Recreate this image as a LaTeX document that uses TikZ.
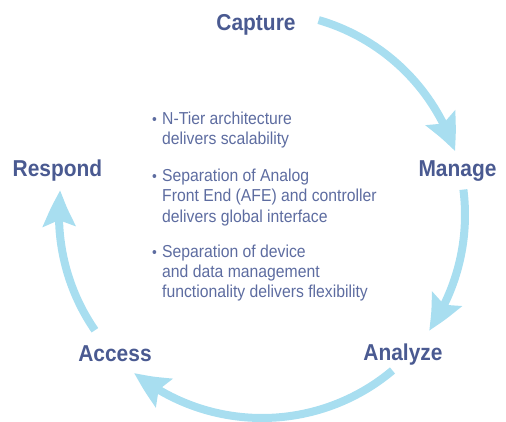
\documentclass[tikz,border=0pt]{standalone}
\usepackage{fontspec}
\setmainfont{Liberation Sans}[FakeStretch=0.91]
\usetikzlibrary{arrows.meta,bending,calc}
\definecolor{titleblue}{HTML}{4A5A91}
\definecolor{textblue}{HTML}{5D6CA0}
\definecolor{arrowblue}{HTML}{A8DEF0}
\begin{document}
\begin{tikzpicture}[x=1pt,y=1pt,
  stage/.style={font=\fontsize{23}{26}\selectfont\bfseries, text=titleblue, inner sep=0pt, anchor=base},
  bullettext/.style={font=\fontsize{17.3}{20}\selectfont, text=textblue, inner sep=0pt, anchor=base west},
  bulletdot/.style={font=\fontsize{15}{16}\selectfont, text=textblue, inner sep=0pt, anchor=base east},
  cyclearrow/.style={line width=8pt, draw=arrowblue, -{Stealth[length=36pt,width=32pt,inset=6pt,bend]}}
]
\useasboundingbox (0,0) rectangle (506,421);
% stage labels
\node[stage] (capture) at (256,390) {Capture};
\node[stage] (manage)  at (457.5,244) {Manage};
\node[stage] (respond) at (57.5,244) {Respond};
\node[stage] (access)  at (115,60) {Access};
\node[stage] (analyze) at (403,61) {Analyze};
% circle geometry
\coordinate (o) at (262,206);
\def\R{203}
\draw[cyclearrow] ($(o)+(73.8:\R)$) arc[start angle=73.8, end angle=18.3, radius=\R];
\draw[cyclearrow] ($(o)+(7.2:\R)$) arc[start angle=7.2, end angle=-34.7, radius=\R];
\draw[cyclearrow] ($(o)+(-50:\R)$) arc[start angle=-50, end angle=-129, radius=\R];
\draw[cyclearrow] ($(o)+(-145.4:\R)$) arc[start angle=-145.4, end angle=-187, radius=\R];
% bullets
\node[bulletdot] (d1) at (157,296) {\textbullet};
\node[bullettext] (b1) at (162,296) {\begin{tabular}[t]{@{}l@{}}N-Tier architecture\\delivers scalability\end{tabular}};
\node[bulletdot] (d2) at (157,239) {\textbullet};
\node[bullettext] (b2) at (162,239) {\begin{tabular}[t]{@{}l@{}}Separation of Analog\\Front End (AFE) and controller\\delivers global interface\end{tabular}};
\node[bulletdot] (d3) at (157,164) {\textbullet};
\node[bullettext] (b3) at (162,164) {\begin{tabular}[t]{@{}l@{}}Separation of device\\and data management\\functionality delivers flexibility\end{tabular}};
\end{tikzpicture}
\end{document}
